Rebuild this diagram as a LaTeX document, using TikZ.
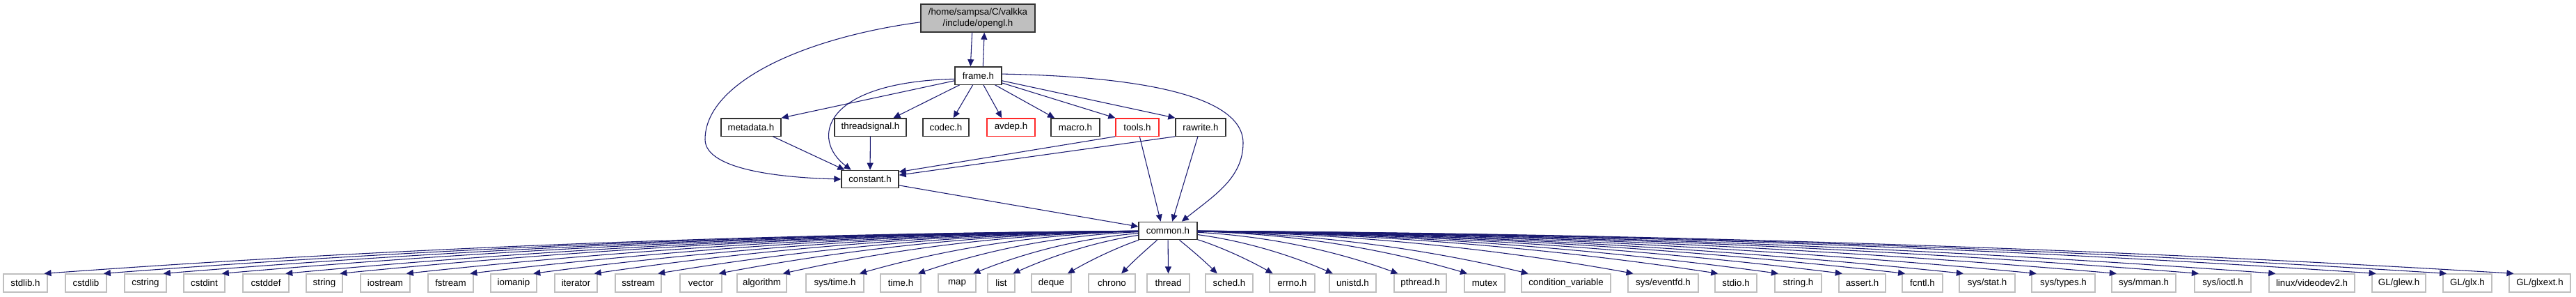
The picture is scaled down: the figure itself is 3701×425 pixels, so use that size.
\documentclass[tikz,border=0pt]{standalone}
\usepackage{fontspec}
\setmainfont{Liberation Sans}
\usetikzlibrary{arrows.meta, calc}
\definecolor{inclblue}{RGB}{25, 25, 112}
\definecolor{sysgray}{RGB}{191, 191, 191}
\definecolor{cutred}{RGB}{255, 40, 40}
\definecolor{hdrline}{RGB}{50, 50, 50}
\tikzset{
  hdrbox/.style={draw=hdrline, line width=1pt, fill=white, inner sep=1pt, minimum height=19pt, font=\fontsize{10}{12}\selectfont},
  sysbox/.style={hdrbox, draw=sysgray},
  cutbox/.style={hdrbox, draw=cutred},
  incl/.style={draw=inclblue, line width=0.8pt, -{Triangle[length=7.5pt, width=6.75pt]}}
}

\begin{document}
\begin{tikzpicture}[x=0.75pt, y=-0.75pt]
  \path[fill=white] (0,0) rectangle (3701,425);
  \useasboundingbox (0,0) rectangle (3701,425);

  % headers of the project
  \node[hdrbox, fill=sysgray, minimum width=123pt, minimum height=30pt, align=center] (opengl) at (1405,26) {/home/sampsa/C/valkka\\/include/opengl.h};
  \node[hdrbox, minimum width=50.25pt] (frame) at (1405.5,108.5) {frame.h};
  \node[hdrbox, minimum width=64.5pt] (metadata) at (1079,182.5) {metadata.h};
  \node[hdrbox, minimum width=77.25pt] (threadsignal) at (1250.5,182.5) {threadsignal.h};
  \node[hdrbox, minimum width=49.5pt] (codec) at (1359,182.5) {codec.h};
  \node[cutbox, minimum width=51.75pt] (avdep) at (1452.5,182.5) {avdep.h};
  \node[hdrbox, minimum width=52.5pt] (macro) at (1545,182.5) {macro.h};
  \node[cutbox, minimum width=46.5pt] (tools) at (1634,182.5) {tools.h};
  \node[hdrbox, minimum width=54pt] (rawrite) at (1725,182.5) {rawrite.h};
  \node[hdrbox, minimum width=61.5pt] (constant) at (1250,257) {constant.h};
  \node[hdrbox, minimum width=63pt] (common) at (1678,331) {common.h};

  \draw[incl] (opengl.248) -- (frame.130);
  \draw[incl] (frame.63) -- (opengl.294);
  \draw[incl] (opengl.184) .. controls (1150,55) and (1013,120) .. (1013,200)
    .. controls (1013,245) and (1130,255) .. (constant.west);
  \draw[incl] (frame) -- (metadata.north east);
  \draw[incl] (frame) -- (threadsignal.22);
  \draw[incl] (frame) -- (codec.51);
  \draw[incl] (frame) -- (avdep.135);
  \draw[incl] (frame) -- (macro.156);
  \draw[incl] (frame) -- (tools.north west);
  \draw[incl] (frame) -- (rawrite.north west);
  \draw[incl] (frame.188) .. controls (1180,118) and (1165,200) .. (constant.154);
  \draw[incl] (frame.4) .. controls (1650,110) and (1786,140) .. (1786,205)
    .. controls (1786,255) and (1745,280) .. (common.34);
  \draw[incl] (metadata.337) -- (constant.160);
  \draw[incl] (threadsignal) -- (constant);
  \draw[incl] (tools.south west) -- (constant.14);
  \draw[incl] (rawrite.south west) -- (constant.8);
  \draw[incl] (tools) -- (common.128);
  \draw[incl] (rawrite) -- (common.65);
  \draw[incl] (constant.348) -- (common.172);

  % system headers, fanned out from common.h
  \foreach \lx/\rx/\nm/\lbl/\fr in {
      5/68/stdlib/stdlib.h/0.92, 94/153/cstdlib/cstdlib/0.92,
      179/239/cstring/cstring/0.92, 264/323/cstdint/cstdint/0.92,
      349/415/cstddef/cstddef/0.92, 440/492/string/string/0.92,
      518/589/iostream/iostream/0.92, 615/680/fstream/fstream/0.92,
      705/771/iomanip/iomanip/0.92, 797/858/iterator/iterator/0.92,
      884/950/sstream/sstream/0.92, 977/1037/vector/vector/0.92,
      1059/1130/algorithm/algorithm/0.92, 1158/1241/systime/{sys/time.h}/0.92,
      1265/1323/timeh/time.h/0.92, 1348/1402/map/map/0.92,
      1419/1458/list/list/0.92, 1482/1539/deque/deque/0.9,
      1564/1631/chrono/chrono/0.7, 1648/1709/thread/thread/0.5,
      1732/1800/sched/sched.h/0.25, 1824/1889/errno/errno.h/0.08,
      1910/1977/unistd/unistd.h/0.08, 2003/2078/pthread/pthread.h/0.08,
      2104/2162/mutex/mutex/0.08, 2186/2314/condvar/condition\_variable/0.08,
      2339/2440/eventfd/{sys/eventfd.h}/0.08, 2464/2524/stdio/stdio.h/0.08,
      2550/2617/stringh/string.h/0.08, 2642/2709/assert/assert.h/0.08,
      2733/2791/fcntl/fcntl.h/0.08, 2815/2895/sysstat/{sys/stat.h}/0.08,
      2919/3010/systypes/{sys/types.h}/0.08, 3034/3126/sysmman/{sys/mman.h}/0.08,
      3153/3234/sysioctl/{sys/ioctl.h}/0.08, 3260/3383/videodev/{linux/videodev2.h}/0.08,
      3408/3485/glew/{GL/glew.h}/0.08, 3510/3580/glx/{GL/glx.h}/0.08,
      3605/3693/glxext/{GL/glxext.h}/0.08} {
    \pgfmathsetmacro\bw{(\rx-\lx)*0.75}
    \node[sysbox, minimum width=\bw pt, minimum height=19.5pt] (\nm) at ({(\lx+\rx)/2},406) {\lbl};
    \pgfmathsetmacro\ecx{\lx+\fr*(\rx-\lx)}
    \pgfmathsetmacro\sg{(\ecx>1678)?1:-1}
    \pgfmathsetmacro\dd{abs(\ecx-1678)}
    \pgfmathsetmacro\sx{1678+\sg*min(42,\dd*0.15)}
    \pgfmathsetmacro\sy{344-9*min(1,\dd/300)}
    \pgfmathsetmacro\kk{max(0,0.5-\dd/800)}
    \pgfmathsetmacro\qx{\sx+(\ecx-\sx)*0.5}
    \pgfmathsetmacro\qy{\sy+(393-\sy)*\kk}
    \pgfmathsetmacro\cax{\sx+2/3*(\qx-\sx)}
    \pgfmathsetmacro\cay{\sy+2/3*(\qy-\sy)}
    \pgfmathsetmacro\cbx{\ecx+2/3*(\qx-\ecx)}
    \pgfmathsetmacro\cby{393+2/3*(\qy-393)}
    \draw[incl] (common) .. controls (\cax,\cay) and (\cbx,\cby) .. ($(\nm.north west)!\fr!(\nm.north east)$);
  }
\end{tikzpicture}
\end{document}
